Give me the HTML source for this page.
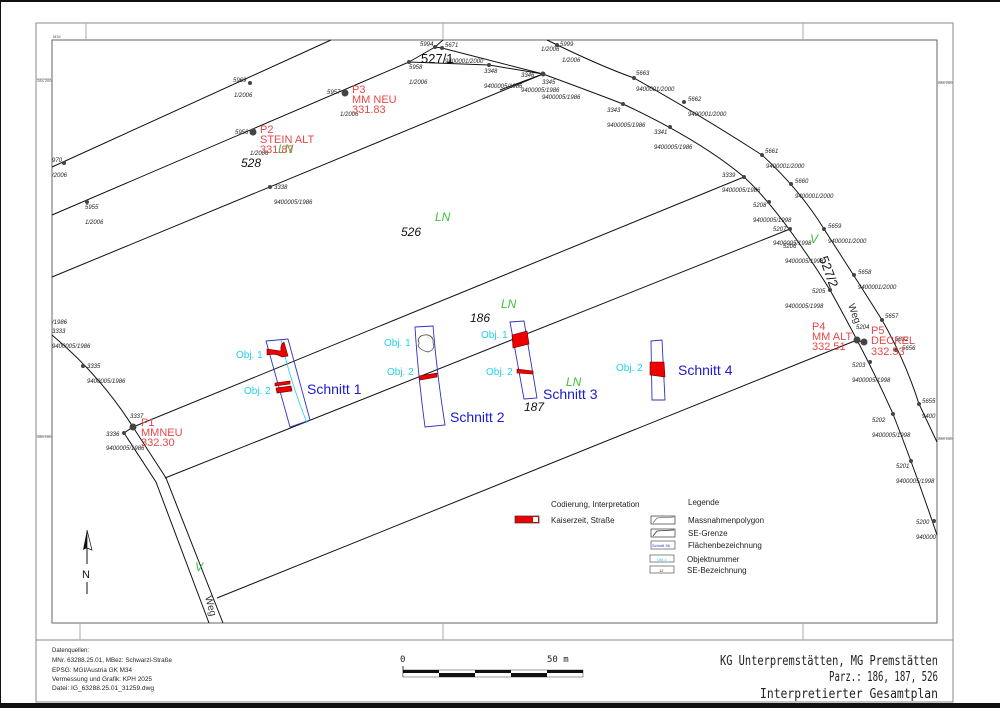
<!DOCTYPE html>
<html><head><meta charset="utf-8"><style>
html,body{margin:0;padding:0;background:#fff;}
svg{display:block;}
text{font-family:"Liberation Sans",sans-serif;}
.n{font-size:6px;font-style:italic;fill:#222;}
.big{font-size:12px;font-style:italic;fill:#111;}
.r{font-size:11px;fill:#e84848;}
.g{font-size:12px;font-style:italic;fill:#40c040;}
.o{font-size:10px;fill:#20d0e8;}
.s{font-size:14px;fill:#1a1ad0;}
.l{stroke:#111;stroke-width:1;fill:none;}
.p{fill:#444;}
.m{font-family:"DejaVu Sans Mono","Liberation Mono",monospace;fill:#222;}
</style></head><body>
<svg width="1000" height="708" viewBox="0 0 1000 708" xmlns="http://www.w3.org/2000/svg">
<rect x="0" y="0" width="1000" height="708" fill="#fff"/>
<rect x="0" y="0" width="1000" height="2" fill="#111"/>
<rect x="0" y="703" width="1000" height="5" fill="#111"/>
<rect x="0" y="0" width="1" height="708" fill="#111"/>
<rect x="36" y="23" width="917" height="679" fill="none" stroke="#888" stroke-width="1"/>
<rect x="52" y="40" width="885" height="583" fill="none" stroke="#666" stroke-width="1"/>
<line x1="36" y1="640" x2="953" y2="640" stroke="#888"/>
<line x1="86" y1="23" x2="86" y2="40" stroke="#aaa"/><line x1="443" y1="23" x2="443" y2="40" stroke="#aaa"/><line x1="803" y1="23" x2="803" y2="40" stroke="#aaa"/>
<line x1="80" y1="623" x2="80" y2="640" stroke="#aaa"/><line x1="443" y1="623" x2="443" y2="640" stroke="#aaa"/><line x1="803" y1="623" x2="803" y2="640" stroke="#aaa"/>
<line x1="36" y1="79" x2="52" y2="79" stroke="#aaa"/><line x1="36" y1="436" x2="52" y2="436" stroke="#aaa"/>
<line x1="937" y1="82" x2="953" y2="82" stroke="#aaa"/><line x1="937" y1="438" x2="953" y2="438" stroke="#aaa"/>
<text x="53" y="38" font-size="4" fill="#555">M34</text>
<text x="37" y="82" font-size="4" fill="#555">284 200</text>
<text x="37" y="438" font-size="4" fill="#555">284 100</text>
<text x="938" y="84" font-size="4" fill="#555">284 200</text>
<text x="938" y="440" font-size="4" fill="#555">284 100</text>

<g class="l">
<line x1="52" y1="167" x2="331" y2="40"/>
<line x1="52" y1="215" x2="409" y2="62"/>
<polyline points="409,62 435,47 443,40"/>
<polyline points="435,47 442,48 543,74"/>
<polyline points="409,62 489,65 543,74"/>
<line x1="52" y1="277" x2="543" y2="74"/>
<polyline points="500,90 543,74"/>
<path d="M543,74 Q600,95 623,104 Q700,140 744,177 Q780,210 830,290 Q870,362 893,414 Q915,470 937,535"/>
<path d="M547,40 Q600,66 634,78 Q700,115 762,155 Q800,190 824,229 Q860,285 882,320 Q905,360 919,404 L937,442"/>
<line x1="133" y1="427" x2="744" y2="177"/>
<line x1="165" y1="478" x2="790" y2="229"/>
<line x1="217" y1="598" x2="857" y2="340"/>
<line x1="857" y1="340" x2="865" y2="343"/>
<path d="M52,335 Q100,375 133,427"/>
<polyline points="124,433 133,427"/>
<polyline points="124,433 156,482 209,623"/>
<polyline points="133,427 166,478 223,623"/>
</g>
<g class="p">
<circle cx="64" cy="163" r="2"/><circle cx="250" cy="83" r="2"/><circle cx="87" cy="202" r="2"/>
<circle cx="253" cy="132" r="3.5"/><circle cx="345" cy="93" r="3.5"/><circle cx="409" cy="62" r="2"/>
<circle cx="435" cy="47" r="2"/><circle cx="442" cy="48" r="2"/><circle cx="489" cy="65" r="2"/><circle cx="543" cy="74" r="2.5"/>
<circle cx="270" cy="187" r="2"/><circle cx="557" cy="45" r="2"/><circle cx="634" cy="78" r="2"/><circle cx="684" cy="102" r="2"/>
<circle cx="762" cy="155" r="2"/><circle cx="791" cy="184" r="2"/><circle cx="824" cy="229" r="2"/><circle cx="854" cy="275" r="2"/>
<circle cx="882" cy="320" r="2"/><circle cx="896" cy="350" r="2"/><circle cx="919" cy="404" r="2"/>
<circle cx="623" cy="104" r="2"/><circle cx="670" cy="127" r="2"/><circle cx="744" cy="177" r="2"/><circle cx="769" cy="202" r="2"/>
<circle cx="790" cy="229" r="2"/><circle cx="830" cy="290" r="2"/><circle cx="870" cy="362" r="2"/><circle cx="893" cy="414" r="2"/>
<circle cx="911" cy="461" r="2"/><circle cx="934" cy="521" r="2"/>
<circle cx="857" cy="340" r="3.5"/><circle cx="864" cy="342" r="3.5"/>
<circle cx="83" cy="366" r="2"/><circle cx="133" cy="427" r="3.5"/><circle cx="124" cy="433" r="2"/>
</g>
<g class="n">
<text x="52" y="162">970</text><text x="52" y="177">/2006</text>
<text x="233" y="82">5969</text><text x="234" y="97">1/2006</text>
<text x="85" y="209">5955</text><text x="85" y="224">1/2006</text>
<text x="235" y="134">5956</text><text x="250" y="155">1/2006</text>
<text x="327" y="94">5957</text><text x="340" y="116">1/2006</text>
<text x="409" y="69">5958</text><text x="409" y="84">1/2006</text>
<text x="420" y="46">5994</text><text x="445" y="47">5671</text><text x="445" y="63">9400001/2000</text>
<text x="484" y="73">3348</text><text x="484" y="88">9400005/1986</text>
<text x="521" y="77">3346</text><text x="542" y="84">3345</text>
<text x="521" y="92">9400005/1986</text><text x="542" y="99">9400005/1986</text>
<text x="560" y="46">5999</text><text x="541" y="51">1/2006</text><text x="562" y="62">1/2006</text>
<text x="636" y="75">5663</text><text x="636" y="91">9400001/2000</text>
<text x="688" y="101">5662</text><text x="688" y="116">9400001/2000</text>
<text x="607" y="112">3343</text><text x="607" y="127">9400005/1986</text>
<text x="654" y="134">3341</text><text x="654" y="149">9400005/1986</text>
<text x="765" y="153">5661</text><text x="766" y="168">9400001/2000</text>
<text x="795" y="183">5660</text><text x="795" y="198">9400001/2000</text>
<text x="722" y="177">3339</text><text x="722" y="192">9400005/1986</text>
<text x="753" y="207">5208</text><text x="753" y="222">9400005/1998</text>
<text x="773" y="231">5207</text><text x="773" y="245">9400005/1998</text><text x="783" y="248">5206</text>
<text x="785" y="263">9400005/1998</text>
<text x="828" y="228">5659</text><text x="828" y="243">9400001/2000</text>
<text x="858" y="274">5658</text><text x="858" y="289">9400001/2000</text>
<text x="812" y="293">5205</text><text x="785" y="308">9400005/1998</text>
<text x="856" y="329">5204</text>
<text x="885" y="318">5657</text><text x="895" y="341">5832</text><text x="902" y="350">5656</text>
<text x="852" y="367">5203</text><text x="852" y="382">9400005/1998</text>
<text x="872" y="422">5202</text><text x="872" y="437">9400005/1998</text>
<text x="922" y="403">5655</text><text x="922" y="418">9400</text>
<text x="896" y="468">5201</text><text x="896" y="483">9400005/1998</text>
<text x="916" y="524">5200</text><text x="916" y="539">940000</text>
<text x="274" y="189">3338</text><text x="274" y="204">9400005/1986</text>
<text x="52" y="324">/1986</text><text x="52" y="333">3333</text><text x="52" y="348">9400005/1986</text>
<text x="87" y="368">3335</text><text x="87" y="383">9400005/1986</text>
<text x="130" y="418">3337</text><text x="106" y="436">3336</text><text x="106" y="450">9400005/1986</text>
</g>
<text class="big" x="241" y="167">528</text>
<text class="big" x="401" y="236">526</text>
<text class="big" x="470" y="322">186</text>
<text class="big" x="524" y="411">187</text>
<text x="421" y="63" font-size="13" fill="#111">527/1</text>
<text x="0" y="0" font-size="13" fill="#111" transform="translate(819,258) rotate(70)">527/2</text>
<text x="0" y="0" font-size="10" fill="#333" transform="translate(848,305) rotate(70)">Weg</text>
<text x="0" y="0" font-size="10" fill="#333" transform="translate(205,597) rotate(75)">Weg</text>
<text class="g" x="435" y="221">LN</text>
<text class="g" x="501" y="308">LN</text>
<text class="g" x="566" y="386">LN</text>
<text class="g" x="278" y="153">LN</text>
<text class="g" x="810" y="243" font-size="10">V</text>
<text class="g" x="195" y="571" font-size="10">V</text>
<text class="r" x="260" y="133">P2</text><text class="r" x="260" y="143">STEIN  ALT</text><text class="r" x="260" y="153">331.87</text>
<text class="r" x="352" y="93">P3</text><text class="r" x="352" y="103">MM  NEU</text><text class="r" x="352" y="113">331.83</text>
<text class="r" x="141" y="426">P1</text><text class="r" x="141" y="436">MMNEU</text><text class="r" x="141" y="446">332.30</text>
<text class="r" x="812" y="330">P4</text><text class="r" x="812" y="340">MM  ALT</text><text class="r" x="812" y="350">332.51</text>
<text class="r" x="871" y="334">P5</text><text class="r" x="871" y="344">DECKEL</text><text class="r" x="871" y="355">332.53</text>
<g fill="none" stroke="#3030c0" stroke-width="0.9">
<polygon points="266,341 288,339 310,420 290,427"/>
<path d="M415,327 L433,326 Q437,375 445,425 L425,427 Q418,375 415,327Z"/>
<polygon points="510,322 524,321 537,398 524,399"/>
<polygon points="651,341 662,340 665,400 652,400"/>
</g>
<path d="M281,340 Q290,380 307,423" stroke="#20d0e8" fill="none" stroke-width="0.8"/>
<g fill="#e00" stroke="#600" stroke-width="0.6">
<path d="M267,349 L281,351 Q280,344 284,342 L288,356 L282,357 Q276,353 267,355Z"/>
<polygon points="275,383 290,381 290,384 275,386"/>
<polygon points="276,388 291,386 292,391 277,393"/>
<polygon points="419,376 437,373 437,377 420,380"/>
<polygon points="512,335 527,331 529,344 513,348"/>
<polygon points="517,369 533,371 533,374 517,373"/>
<polygon points="650,362 664,362 665,377 650,375"/>
</g>
<path d="M418,340 Q420,334 428,335 Q434,337 433,343 Q436,349 428,352 Q420,350 418,346 Q420,343 418,340Z" fill="none" stroke="#333" stroke-width="0.7"/>
<text class="o" x="236" y="358">Obj. 1</text><text class="o" x="244" y="394">Obj. 2</text>
<text class="o" x="384" y="346">Obj. 1</text><text class="o" x="387" y="375">Obj. 2</text>
<text class="o" x="481" y="338">Obj. 1</text><text class="o" x="486" y="375">Obj. 2</text>
<text class="o" x="616" y="371">Obj. 2</text>
<text class="s" x="307" y="394">Schnitt 1</text>
<text class="s" x="450" y="422">Schnitt 2</text>
<text class="s" x="543" y="399">Schnitt 3</text>
<text class="s" x="678" y="375">Schnitt 4</text>
<text x="551" y="507" font-size="8" fill="#222">Codierung, Interpretation</text>
<text x="688" y="505" font-size="8" fill="#222">Legende</text>
<rect x="515" y="516" width="24" height="7" fill="#e00" stroke="#333" stroke-width="0.7"/>
<rect x="533" y="517" width="5" height="5" fill="#fff"/>
<text x="551" y="523" font-size="8" fill="#222">Kaiserzeit, Straße</text>
<rect x="651" y="516" width="24" height="8" fill="none" stroke="#333" stroke-width="0.7"/><path d="M653,523 L657,518 L674,517" stroke="#333" fill="none" stroke-width="0.6"/>
<rect x="651" y="529" width="24" height="8" fill="none" stroke="#333" stroke-width="0.7"/><path d="M653,536 L657,531 L674,530" stroke="#333" fill="none" stroke-width="0.8"/>
<rect x="651" y="541" width="24" height="8" fill="none" stroke="#555" stroke-width="0.7"/><text x="652" y="547" font-size="4" fill="#3030c0">Schnitt 36</text>
<rect x="650" y="555" width="24" height="7" fill="none" stroke="#555" stroke-width="0.7"/><text x="657" y="561" font-size="4" fill="#20d0e8">Obj.1</text>
<rect x="650" y="566" width="24" height="7" fill="none" stroke="#555" stroke-width="0.7"/><text x="659" y="572" font-size="4" fill="#333">12</text>
<text x="688" y="523" font-size="8" fill="#222">Massnahmenpolygon</text>
<text x="688" y="536" font-size="8" fill="#222">SE-Grenze</text>
<text x="688" y="548" font-size="8" fill="#222">Flächenbezeichnung</text>
<text x="687" y="562" font-size="8" fill="#222">Objektnummer</text>
<text x="687" y="573" font-size="8" fill="#222">SE-Bezeichnung</text>
<polygon points="87,530 83,550 87,548" fill="#111"/><polygon points="87,530 92,550 87,548" fill="#fff" stroke="#111" stroke-width="0.7"/>
<line x1="87" y1="548" x2="87" y2="564" stroke="#111"/>
<text x="82" y="578" font-size="11" fill="#111">N</text>
<line x1="87" y1="582" x2="87" y2="594" stroke="#111"/>
<g class="m" font-size="6">
<text x="52" y="652">Datenquellen:</text>
<text x="52" y="662" textLength="120" lengthAdjust="spacingAndGlyphs">MNr. 63288.25.01, MBez: Schwarzl-Straße</text>
<text x="52" y="672" textLength="80" lengthAdjust="spacingAndGlyphs">EPSG: MGI/Austria GK  M34</text>
<text x="52" y="681" textLength="100" lengthAdjust="spacingAndGlyphs">Vermessung und Grafik: KPH 2025</text>
<text x="52" y="690" textLength="102" lengthAdjust="spacingAndGlyphs">Datei: IG_63288.25.01_31259.dwg</text>
</g>
<text class="m" x="400" y="662" font-size="9">0</text>
<text class="m" x="547" y="662" font-size="9">50 m</text>
<g>
<line x1="403" y1="666" x2="403" y2="677" stroke="#333"/>
<rect x="403" y="670" width="180" height="7" fill="#fff" stroke="#555" stroke-width="0.6"/>
<rect x="403" y="670" width="36" height="3" fill="#111"/><rect x="439" y="673" width="36" height="4" fill="#111"/>
<rect x="475" y="670" width="36" height="3" fill="#111"/><rect x="511" y="673" width="36" height="4" fill="#111"/>
<rect x="547" y="670" width="36" height="3" fill="#111"/>
</g>
<text class="m" x="720" y="665" font-size="13" textLength="218" lengthAdjust="spacingAndGlyphs">KG Unterpremstätten, MG Premstätten</text>
<text class="m" x="829" y="681" font-size="13" textLength="109" lengthAdjust="spacingAndGlyphs">Parz.: 186, 187, 526</text>
<text class="m" x="760" y="698" font-size="13" textLength="178" lengthAdjust="spacingAndGlyphs">Interpretierter Gesamtplan</text>
</svg>
</body></html>
